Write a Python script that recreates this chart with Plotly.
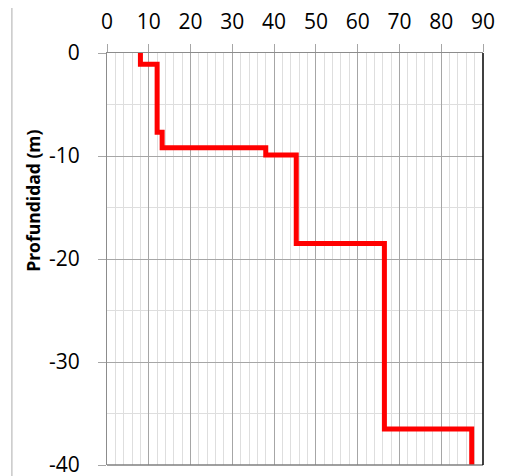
import plotly.graph_objects as go

# Layer values (x) and depth boundaries (m)
layer_values = [8, 12, 13.2, 38, 45.3, 66.4, 87.3]
depth_bounds = [0, -1.1, -7.7, -9.2, -9.9, -18.5, -36.5, -40]
x_ticks = [0, 10, 20, 30, 40, 50, 60, 70, 80, 90]
y_ticks = [0, -10, -20, -30, -40]
y_tick_labels = ["0", "-10", "-20", "-30", "-40"]
y_title = "Profundidad (m)"

xs, ys = [], []
for i, v in enumerate(layer_values):
    xs += [v, v]
    ys += [depth_bounds[i], depth_bounds[i + 1]]

FONT = "Open Sans"

fig = go.Figure()
fig.add_trace(go.Scatter(x=xs, y=ys, mode="lines",
                         line=dict(color="#ff0000", width=5),
                         showlegend=False, hoverinfo="skip", cliponaxis=False))

fig.update_layout(
    width=512, height=468,
    margin=dict(l=99, r=37, t=45, b=11),
    paper_bgcolor="white", plot_bgcolor="white",
    font=dict(family=FONT, color="#000000"),
    xaxis=dict(
        side="top", range=[0, 90], tickvals=x_ticks,
        showgrid=True, gridcolor="#a6a6a6", gridwidth=1,
        minor=dict(dtick=2, showgrid=True, gridcolor="#dedede", gridwidth=1),
        ticks="outside", ticklen=8, tickcolor="#a6a6a6",
        tickfont=dict(size=21, family=FONT),
        ticklabelstandoff=7, ticklabeloverflow="allow",
        showline=True, linecolor="#8c8c8c", linewidth=1, mirror=False,
        zeroline=False, fixedrange=True, automargin=False,
    ),
    yaxis=dict(
        range=[-40, 0], tickvals=y_ticks, ticktext=y_tick_labels,
        showgrid=True, gridcolor="#a6a6a6", gridwidth=1,
        minor=dict(dtick=5, showgrid=True, gridcolor="#dedede", gridwidth=1),
        ticks="outside", ticklen=8, tickcolor="#a6a6a6",
        tickfont=dict(size=21, family=FONT),
        ticklabelstandoff=14, ticklabeloverflow="allow",
        showline=True, linecolor="#8c8c8c", linewidth=1,
        zeroline=False, fixedrange=True, automargin=False,
    ),
)

fig.add_annotation(text="<b>" + y_title + "</b>", xref="paper", yref="paper",
                   x=-0.197, y=0.641, xanchor="center", yanchor="middle",
                   textangle=-90, showarrow=False,
                   font=dict(size=17.5, family=FONT, color="#000000"))

# bottom axis line and right black border
fig.add_shape(type="line", xref="paper", yref="paper", x0=0, x1=1, y0=0, y1=0,
              line=dict(color="#7f7f7f", width=1.5))
fig.add_shape(type="line", xref="paper", yref="paper", x0=1, x1=1, y0=0, y1=1,
              line=dict(color="#000000", width=1.5))
# outer chart border on the left
fig.add_shape(type="line", xref="paper", yref="paper", x0=-0.253, x1=-0.253, y0=-0.05, y1=1.15,
              line=dict(color="#c8c8c8", width=1.5))

fig.write_html("out.html")
